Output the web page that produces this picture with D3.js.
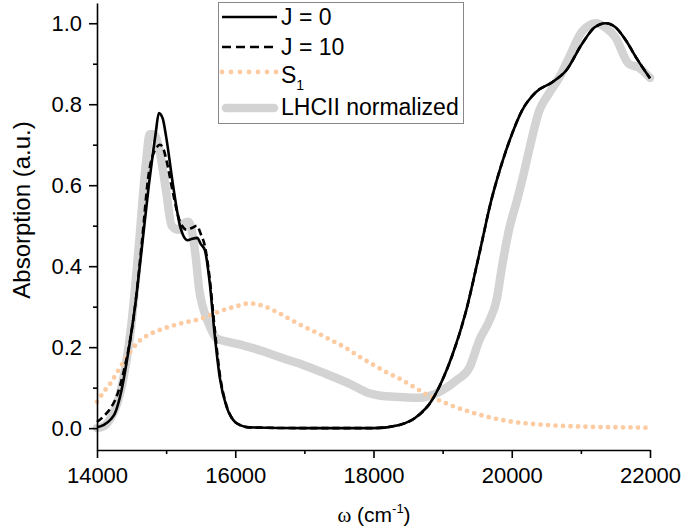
<!DOCTYPE html>
<html>
<head>
<meta charset="utf-8">
<script src="https://cdn.jsdelivr.net/npm/d3@7"></script>
<style>
  body { margin: 0; background: #fff; }
  text { font-family: "Liberation Sans", Arial, sans-serif; fill: #000; }
</style>
</head>
<body>
<div id="chart"></div>
<script>
// absorption spectra, values (omega in cm^-1)
const j0Omega = [14000, 14100, 14200, 14260, 14350, 14450, 14550, 14650, 14750, 14810, 14850, 14895, 14950, 15000, 15100, 15200, 15310, 15380, 15450, 15500, 15560, 15630, 15700, 15775, 15875, 15950, 16020, 16200, 17000, 18000, 18375, 18600, 18850, 19000, 19140, 19340, 19530, 19700, 19850, 20000, 20150, 20350, 20590, 20790, 21020, 21200, 21360, 21500, 21650, 21800, 22000];
const j0Abs   = [0.002, 0.008, 0.022, 0.037, 0.09, 0.185, 0.30, 0.447, 0.60, 0.68, 0.73, 0.778, 0.765, 0.72, 0.60, 0.50, 0.464, 0.468, 0.47, 0.455, 0.44, 0.36, 0.235, 0.126, 0.052, 0.025, 0.012, 0.002, 0.0, 0.0, 0.008, 0.025, 0.07, 0.12, 0.18, 0.29, 0.43, 0.56, 0.65, 0.725, 0.785, 0.83, 0.855, 0.884, 0.95, 0.99, 1.0, 0.99, 0.958, 0.915, 0.864];

const j10Omega = [14000, 14100, 14200, 14300, 14400, 14450, 14550, 14650, 14750, 14800, 14850, 14910, 14960, 15000, 15100, 15200, 15300, 15380, 15444, 15500, 15560, 15630, 15700, 15775, 15875, 15950, 16020, 16200, 17000, 18000, 18375, 18600, 18850, 19000, 19140, 19340, 19530, 19700, 19850, 20000, 20150, 20350, 20590, 20790, 21020, 21200, 21360, 21500, 21650, 21800, 22000];
const j10Abs   = [0.015, 0.03, 0.05, 0.086, 0.15, 0.19, 0.30, 0.46, 0.63, 0.67, 0.69, 0.70, 0.69, 0.665, 0.58, 0.51, 0.49, 0.495, 0.50, 0.48, 0.45, 0.37, 0.25, 0.135, 0.055, 0.025, 0.012, 0.002, 0.0, 0.0, 0.008, 0.025, 0.07, 0.12, 0.18, 0.29, 0.43, 0.56, 0.65, 0.725, 0.785, 0.83, 0.855, 0.884, 0.95, 0.99, 1.0, 0.99, 0.958, 0.915, 0.864];

const s1Omega = [14000, 14100, 14200, 14300, 14400, 14500, 14600, 14700, 14800, 15000, 15200, 15500, 15800, 16000, 16200, 16400, 16600, 16800, 17000, 17200, 17400, 17600, 17800, 18000, 18200, 18400, 18600, 18800, 19000, 19200, 19400, 19600, 19800, 20000, 20400, 20800, 21200, 21600, 22000];
const s1Abs   = [0.065, 0.09, 0.112, 0.14, 0.168, 0.193, 0.213, 0.226, 0.235, 0.248, 0.258, 0.27, 0.29, 0.30, 0.308, 0.302, 0.287, 0.268, 0.25, 0.234, 0.216, 0.198, 0.176, 0.156, 0.137, 0.12, 0.1, 0.08, 0.065, 0.051, 0.04, 0.03, 0.022, 0.016, 0.009, 0.005, 0.003, 0.002, 0.001];

const lhcOmega = [14000, 14100, 14200, 14300, 14400, 14500, 14600, 14700, 14765, 14820, 14900, 15000, 15080, 15180, 15250, 15320, 15380, 15430, 15480, 15530, 15600, 15730, 15900, 16100, 16400, 16700, 17000, 17300, 17650, 17940, 18100, 18375, 18660, 18910, 19200, 19390, 19530, 19680, 19780, 19860, 19960, 20080, 20150, 20250, 20400, 20540, 20700, 20830, 21020, 21220, 21350, 21500, 21690, 21840, 22000];
const lhcAbs   = [0.0, 0.005, 0.025, 0.065, 0.14, 0.26, 0.44, 0.64, 0.726, 0.726, 0.69, 0.585, 0.50, 0.49, 0.505, 0.51, 0.48, 0.42, 0.34, 0.30, 0.265, 0.222, 0.213, 0.205, 0.19, 0.172, 0.155, 0.135, 0.11, 0.086, 0.08, 0.077, 0.075, 0.086, 0.118, 0.15, 0.217, 0.267, 0.316, 0.40, 0.49, 0.565, 0.612, 0.686, 0.785, 0.827, 0.87, 0.916, 0.98, 1.0, 0.99, 0.965, 0.90, 0.89, 0.865];

const xTicks = [14000, 16000, 18000, 20000, 22000];
const xMinor = [15000, 17000, 19000, 21000];
const yTicks = [0.0, 0.2, 0.4, 0.6, 0.8, 1.0];
const yMinor = [0.1, 0.3, 0.5, 0.7, 0.9];

const legendLabels = ['J = 0', 'J = 10', 'S', 'LHCII normalized'];

(function() {
  const width = 685;
  const height = 530;

  const svg = d3.select('#chart').append('svg')
    .attr('width', width)
    .attr('height', height);

  const x = d3.scaleLinear().domain([14000, 22000]).range([97, 650]);
  const y = d3.scaleLinear().domain([-0.054, 1.05]).range([450, 3]);

  const line = d3.line()
    .x(d => x(d[0]))
    .y(d => y(d[1]))
    .curve(d3.curveMonotoneX);

  const zip = (a, b) => a.map((v, i) => [v, b[i]]);

  const series = [
    { data: zip(lhcOmega, lhcAbs), stroke: '#d3d3d3', width: 8.5, dash: null, cap: 'round' },
    { data: zip(s1Omega, s1Abs), stroke: '#fccba1', width: 4.8, dash: '0,7.5', cap: 'round' },
    { data: zip(j10Omega, j10Abs), stroke: '#000', width: 2.6, dash: '7,4', cap: 'butt' },
    { data: zip(j0Omega, j0Abs), stroke: '#000', width: 2.6, dash: null, cap: 'butt' }
  ];

  svg.append('g')
    .selectAll('path')
    .data(series)
    .enter().append('path')
    .attr('d', d => line(d.data))
    .attr('fill', 'none')
    .attr('stroke', d => d.stroke)
    .attr('stroke-width', d => d.width)
    .attr('stroke-dasharray', d => d.dash)
    .attr('stroke-linecap', d => d.cap)
    .attr('stroke-linejoin', 'round');

  // axes: major ticks with labels, minor ticks without
  svg.append('g')
    .attr('transform', `translate(0,${y.range()[0]})`)
    .call(d3.axisBottom(x).tickValues(xTicks).tickFormat(d3.format('d'))
      .tickSize(8).tickSizeOuter(0).tickPadding(9));
  svg.append('g')
    .attr('transform', `translate(0,${y.range()[0]})`)
    .call(d3.axisBottom(x).tickValues(xMinor).tickFormat('').tickSize(4).tickSizeOuter(0))
    .select('.domain').remove();

  svg.append('g')
    .attr('transform', `translate(${x.range()[0]},0)`)
    .call(d3.axisLeft(y).tickValues(yTicks).tickFormat(d3.format('.1f'))
      .tickSize(8).tickSizeOuter(0).tickPadding(7));
  svg.append('g')
    .attr('transform', `translate(${x.range()[0]},0)`)
    .call(d3.axisLeft(y).tickValues(yMinor).tickFormat('').tickSize(4).tickSizeOuter(0))
    .select('.domain').remove();

  svg.selectAll('.domain, .tick line')
    .attr('stroke', '#000')
    .attr('stroke-width', 1.6);
  svg.selectAll('.tick text')
    .attr('font-family', '"Liberation Sans", Arial, sans-serif')
    .attr('font-size', 22)
    .attr('fill', '#000');

  // axis titles
  const xTitle = svg.append('text')
    .attr('x', 374)
    .attr('y', 522)
    .attr('text-anchor', 'middle')
    .style('font-size', '21px');
  xTitle.append('tspan').style('font-family', '"Liberation Serif", "Times New Roman", serif').text('ω');
  xTitle.append('tspan').text(' (cm');
  xTitle.append('tspan').attr('dy', -9).style('font-size', '13px').text('-1');
  xTitle.append('tspan').attr('dy', 9).text(')');

  svg.append('text')
    .attr('transform', 'translate(30,210) rotate(-90)')
    .attr('text-anchor', 'middle')
    .style('font-size', '24px')
    .text('Absorption (a.u.)');

  // legend
  const legend = svg.append('g');
  legend.append('rect')
    .attr('x', 218.5)
    .attr('y', 2.5)
    .attr('width', 245)
    .attr('height', 121)
    .attr('fill', '#fff')
    .attr('stroke', '#888')
    .attr('stroke-width', 1);

  const legendRows = [
    { s: series[3], ly: 17, ty: 25 },
    { s: series[2], ly: 47, ty: 55 },
    { s: series[1], ly: 72, ty: 83 },
    { s: series[0], ly: 108, ty: 115 }
  ];

  legendRows.forEach((r, i) => {
    legend.append('line')
      .attr('x1', i === 3 ? 226 : 222)
      .attr('x2', i === 3 ? 274 : 277)
      .attr('y1', r.ly)
      .attr('y2', r.ly)
      .attr('stroke', r.s.stroke)
      .attr('stroke-width', r.s.width)
      .attr('stroke-dasharray', i === 1 ? '9,5' : (i === 2 ? '0,9' : null))
      .attr('stroke-linecap', r.s.cap);
    const t = legend.append('text')
      .attr('x', 281)
      .attr('y', r.ty)
      .style('font-size', '23px')
      .text(legendLabels[i]);
    if (i === 2) {
      t.append('tspan').attr('dy', 7).style('font-size', '14px').text('1');
    }
  });
})();
</script>
</body>
</html>
